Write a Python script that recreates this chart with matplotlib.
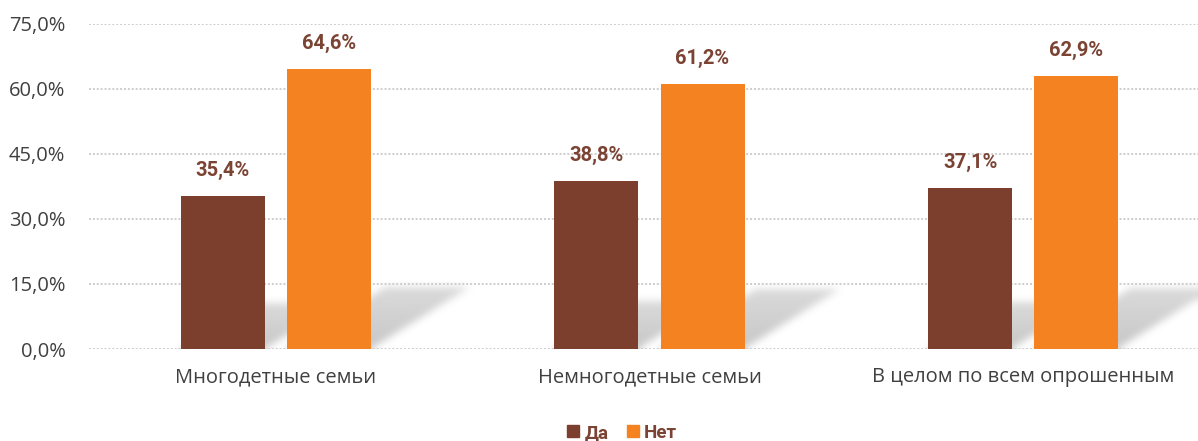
import numpy as np
import matplotlib.pyplot as plt
from matplotlib.lines import Line2D

categories = ['Многодетные семьи', 'Немногодетные семьи', 'В целом по всем опрошенным']
da = [35.4, 38.8, 37.1]
net = [64.6, 61.2, 62.9]
series_names = ['Да', 'Нет']
yticks = [0, 15, 30, 45, 60, 75]

BROWN = '#7c3f2e'
ORANGE = '#f58220'
LABEL = '#7b4333'
TEXT = '#404040'

W, H = 1198, 441
fig = plt.figure(figsize=(W / 100, H / 100), dpi=100)
ax = fig.add_axes([89 / W, 92 / H, 1 - 89 / W, 325 / H])

x = np.arange(len(categories))
bw = 0.225
off = 0.142
xmin, xmax = -0.5, 2.468
ax.set_xlim(xmin, xmax)
ax.set_ylim(0, 75)

# soft floor shadows behind the bars
nx, ny = 1110, 325
gx = np.linspace(xmin, xmax, nx)
gy = np.linspace(0, 75, ny)
XX, YY = np.meshgrid(gx, gy)
mask = np.zeros_like(XX)
px_x = (xmax - xmin) / nx
px_y = 75 / ny
for i in range(len(categories)):
    for v, xc in ((da[i], x[i] - off), (net[i], x[i] + off)):
        hs = 0.13 * v + 5.9
        dx = hs / px_y * 1.6 * px_x
        t = YY / hs
        shift = dx * t
        inside = (YY <= hs) & (XX >= xc - bw / 2 + shift) & (XX <= xc + bw / 2 + shift)
        fade = np.clip(1.0 - 0.35 * t, 0, 1)
        mask = np.maximum(mask, inside * fade)


def box_blur(a, r):
    for axis in (0, 1):
        c = np.cumsum(np.pad(a, [(r + 1, r) if k == axis else (0, 0) for k in range(2)], mode='edge'), axis=axis)
        if axis == 0:
            a = (c[2 * r + 1:] - c[:-2 * r - 1]) / (2 * r + 1)
        else:
            a = (c[:, 2 * r + 1:] - c[:, :-2 * r - 1]) / (2 * r + 1)
    return a


mask = box_blur(box_blur(mask, 4), 4)
img = np.zeros((ny, nx, 4))
img[..., :3] = 0.72
img[..., 3] = np.clip(mask, 0, 1) * 0.78
ax.imshow(img, extent=(xmin, xmax, 0, 75), origin='lower', aspect='auto',
          zorder=0.5, interpolation='bilinear')

for yv in yticks:
    ax.axhline(yv, color='#cdcdcd', lw=1.4, ls=(0, (1, 1)), zorder=1)

ax.bar(x - off, da, bw, color=BROWN, zorder=2)
ax.bar(x + off, net, bw, color=ORANGE, zorder=2)

for i in range(len(categories)):
    for v, xc in ((da[i], x[i] - off), (net[i], x[i] + off)):
        ax.annotate(f'{v:.1f}%'.replace('.', ','), (xc, v), xytext=(0, 11.5),
                    textcoords='offset points', ha='center', va='bottom',
                    fontsize=14.5, fontweight='bold', family='Roboto', color=LABEL)

ax.set_yticks(yticks)
ax.set_yticklabels([f'{v:.1f}%'.replace('.', ',') for v in yticks])
ax.set_xticks(x)
ax.set_xticklabels(categories)
ax.tick_params(length=0, labelsize=14.5, labelcolor=TEXT)
ax.tick_params(axis='y', pad=17)
ax.tick_params(axis='x', pad=13)
for lbl in ax.get_xticklabels() + ax.get_yticklabels():
    lbl.set_family('Open Sans')
for s in ax.spines.values():
    s.set_visible(False)

handles = [Line2D([], [], marker='s', ls='', color=c, markersize=9) for c in (BROWN, ORANGE)]
leg = fig.legend(handles, series_names, loc='lower center', bbox_to_anchor=(0.518, -0.04),
                 ncol=2, frameon=False, handletextpad=0.1, columnspacing=0.8,
                 handlelength=1.0, prop={'family': 'Roboto', 'weight': 'bold', 'size': 13.5})
for t in leg.get_texts():
    t.set_color(LABEL)

fig.savefig('out.png', dpi=100)
